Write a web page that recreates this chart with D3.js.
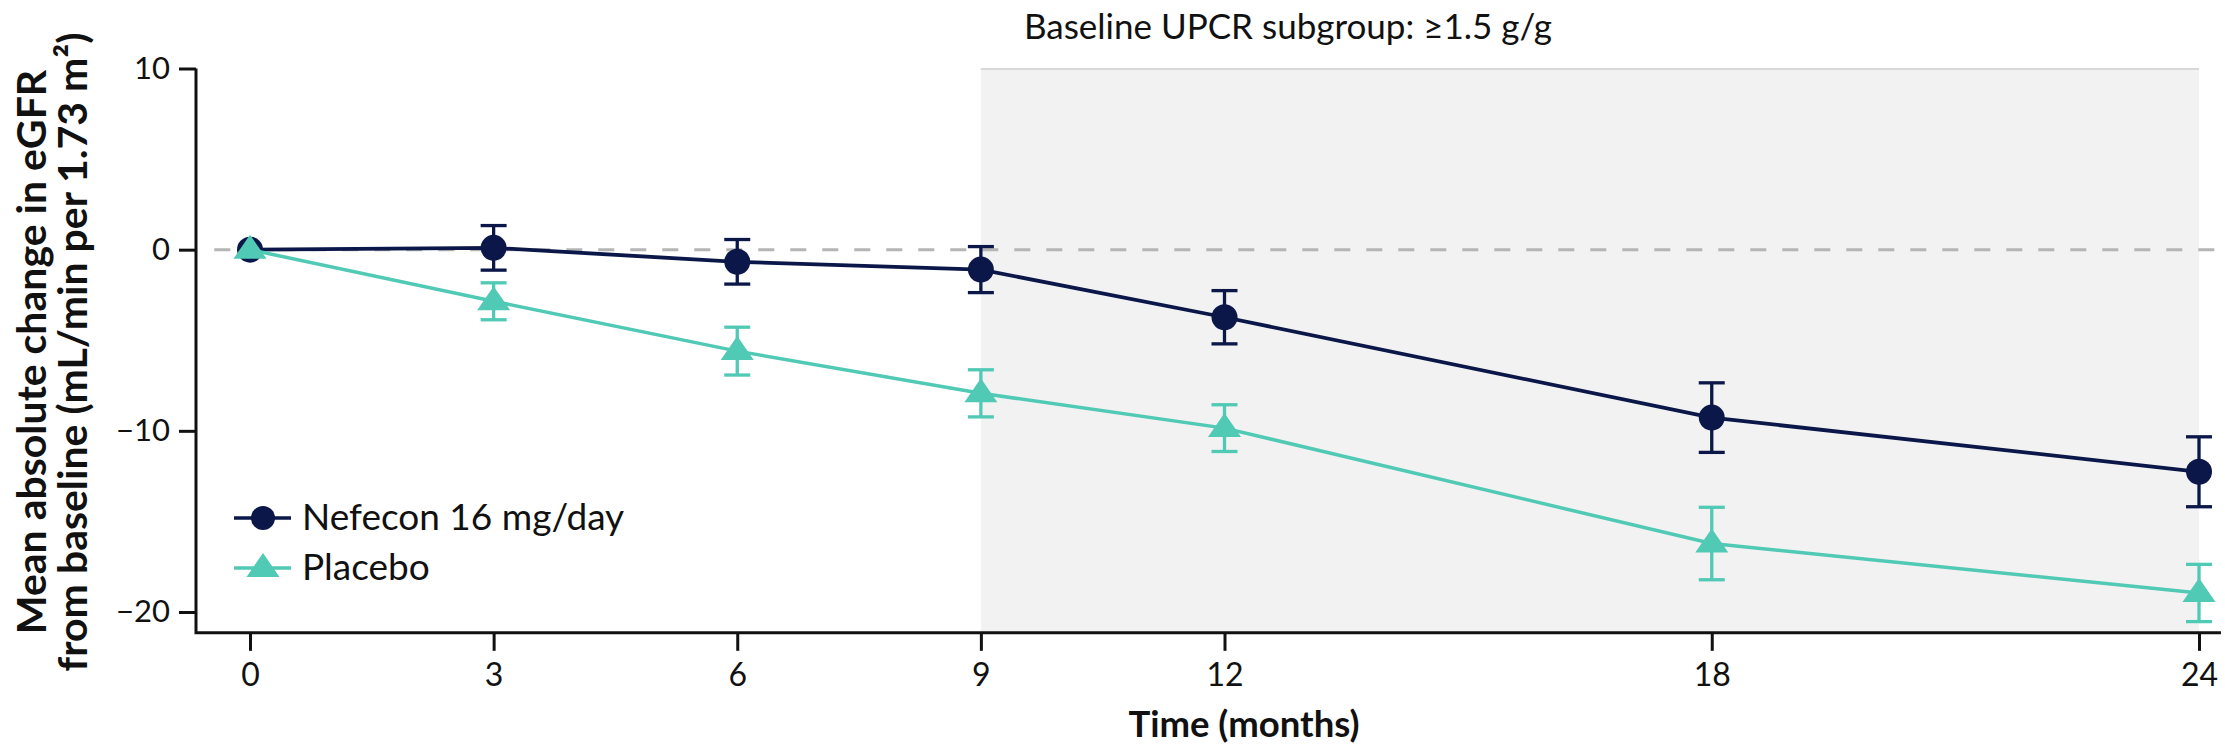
<!DOCTYPE html>
<html>
<head>
<meta charset="utf-8">
<script src="https://cdn.jsdelivr.net/npm/d3@7"></script>
<style>
  html, body { margin: 0; padding: 0; background: #ffffff; }
  svg { display: block; }
  text { font-family: Lato, "Open Sans", sans-serif; }
</style>
</head>
<body>
<svg id="chart" width="2225" height="745"></svg>
<script>
// ---- data ----
const months = [0, 3, 6, 9, 12, 18, 24];
const xTickValues = [0, 3, 6, 9, 12, 18, 24];
const yTickValues = [10, 0, -10, -20];
const seriesNames = ["Nefecon 16 mg/day", "Placebo"];
const nefeconMean = [0, 0.1, -0.67, -1.1, -3.73, -9.27, -12.26];
const nefeconErr  = [0, 1.23, 1.23, 1.27, 1.47, 1.92, 1.93];
const placeboMean = [0, -2.85, -5.6, -7.93, -9.85, -16.22, -18.95];
const placeboErr  = [0, 1.02, 1.32, 1.3, 1.29, 2.0, 1.58];
const shadedMonths = [9, 24];
const titleText = "Baseline UPCR subgroup: \u22651.5 g/g";
const xTitle = "Time (months)";
const yTitleLines = ["Mean absolute change in eGFR", "from baseline (mL/min per 1.73 m\u00b2)"];

// ---- styles ----
const navy = "#0a1748";
const teal = "#50c9b5";

const svg = d3.select("#chart");

const x = d3.scaleLinear().domain([0, 24]).range([250, 2199]);
const y = d3.scaleLinear().domain([10, -20]).range([68.5, 612]);
const xAxisStart = -0.665, xAxisEnd = 24.27;   // axis line extent in months
const yAxisBottom = -21.15;                     // y-axis bottom value

// shaded region
svg.append("rect")
  .attr("x", x(shadedMonths[0])).attr("y", y(10))
  .attr("width", x(shadedMonths[1]) - x(shadedMonths[0]))
  .attr("height", y(yAxisBottom) - y(10))
  .attr("fill", "#f2f2f2");
svg.append("line")
  .attr("x1", x(shadedMonths[0])).attr("x2", x(shadedMonths[1]))
  .attr("y1", y(10) + 0.5).attr("y2", y(10) + 0.5)
  .attr("stroke", "#d8d8d8").attr("stroke-width", 2);

// reference dashed line at 0
svg.append("line")
  .attr("x1", x(-0.44)).attr("x2", x(24.2))
  .attr("y1", y(0)).attr("y2", y(0))
  .attr("stroke", "#b5b5b5").attr("stroke-width", 3)
  .attr("stroke-dasharray", "16,16");

// axes
const yAxis = d3.axisLeft(y).tickValues(yTickValues).tickSize(17).tickPadding(9)
  .tickFormat(d3.format("d"));
const gy = svg.append("g").attr("transform", `translate(${x(xAxisStart)},0)`).call(yAxis);
gy.select(".domain").remove();
gy.selectAll(".tick line").attr("stroke", "#111").attr("stroke-width", 3);
gy.selectAll(".tick text").attr("fill", "#111").style("font-size", "31px")
  .style("font-family", "Lato, sans-serif");

const xAxis = d3.axisBottom(x).tickValues(xTickValues).tickSize(18).tickPadding(12)
  .tickFormat(d3.format("d"));
const gx = svg.append("g").attr("transform", `translate(0,${y(yAxisBottom)})`).call(xAxis);
gx.select(".domain").remove();
gx.selectAll(".tick line").attr("stroke", "#111").attr("stroke-width", 3);
gx.selectAll(".tick text").attr("fill", "#111").style("font-size", "32px")
  .style("font-family", "Lato, sans-serif");

// axis lines
svg.append("path")
  .attr("d", `M${x(xAxisStart)},${y(10)} L${x(xAxisStart)},${y(yAxisBottom)} L${x(xAxisEnd)},${y(yAxisBottom)}`)
  .attr("fill", "none").attr("stroke", "#111").attr("stroke-width", 3)
  .attr("stroke-linejoin", "miter");

// series
const series = [
  { name: seriesNames[0], mean: nefeconMean, err: nefeconErr, color: navy, shape: "circle", lw: 3.8 },
  { name: seriesNames[1], mean: placeboMean, err: placeboErr, color: teal, shape: "triangle", lw: 3.5 }
];

const line = d3.line().x(d => x(d.m)).y(d => y(d.v));
const triPath = (cx, cy) => `M${cx},${cy - 15} L${cx + 16.5},${cy + 9} L${cx - 16.5},${cy + 9} Z`;

series.forEach(s => {
  const pts = months.map((m, i) => ({ m, v: s.mean[i], e: s.err[i] }));
  const g = svg.append("g");
  g.append("path").datum(pts).attr("d", line)
    .attr("fill", "none").attr("stroke", s.color).attr("stroke-width", s.lw);
  const eb = g.selectAll(".eb").data(pts.filter(d => d.e > 0)).join("g");
  eb.append("line")
    .attr("x1", d => x(d.m)).attr("x2", d => x(d.m))
    .attr("y1", d => y(d.v + d.e)).attr("y2", d => y(d.v - d.e))
    .attr("stroke", s.color).attr("stroke-width", 3.3);
  [1, -1].forEach(sign => {
    eb.append("line")
      .attr("x1", d => x(d.m) - 13).attr("x2", d => x(d.m) + 13)
      .attr("y1", d => y(d.v + sign * d.e)).attr("y2", d => y(d.v + sign * d.e))
      .attr("stroke", s.color).attr("stroke-width", 3.3);
  });
  if (s.shape === "circle") {
    g.selectAll(".mk").data(pts).join("circle")
      .attr("cx", d => x(d.m)).attr("cy", d => y(d.v)).attr("r", 13)
      .attr("fill", s.color);
  } else {
    g.selectAll(".mk").data(pts).join("path")
      .attr("d", d => triPath(x(d.m), y(d.v)))
      .attr("fill", s.color);
  }
});

// legend
const legend = svg.append("g");
const legendRows = [530, 580];
series.forEach((s, i) => {
  const cy = legendRows[i] - 12;
  legend.append("line").attr("x1", 234).attr("x2", 291).attr("y1", cy).attr("y2", cy)
    .attr("stroke", s.color).attr("stroke-width", 3.5);
  if (s.shape === "circle") {
    legend.append("circle").attr("cx", 263).attr("cy", cy).attr("r", 12).attr("fill", s.color);
  } else {
    legend.append("path").attr("d", triPath(263, cy)).attr("fill", s.color);
  }
  legend.append("text").attr("x", 302).attr("y", legendRows[i])
    .attr("fill", "#111").style("font-size", "37px").text(s.name);
});

// title
svg.append("text").attr("x", 1288).attr("y", 39).attr("text-anchor", "middle")
  .attr("fill", "#111").style("font-size", "35px").text(titleText);

// x title
svg.append("text").attr("x", 1244).attr("y", 737).attr("text-anchor", "middle")
  .attr("fill", "#111").style("font-size", "36.5px").style("font-weight", "bold").text(xTitle);

// y title
const yt = svg.append("text").attr("transform", `translate(0,352) rotate(-90)`)
  .attr("text-anchor", "middle").attr("fill", "#111")
  .style("font-size", "41px").style("font-weight", "bold");
yt.append("tspan").attr("x", 0).attr("y", 46).text(yTitleLines[0]);
yt.append("tspan").attr("x", 0).attr("y", 87).text(yTitleLines[1]);
</script>
</body>
</html>
